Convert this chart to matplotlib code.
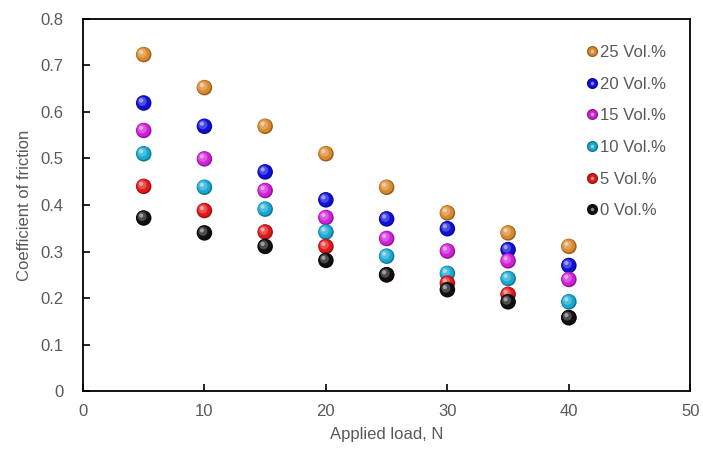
import numpy as np
import matplotlib
matplotlib.use("Agg")
import matplotlib.pyplot as plt
from matplotlib.transforms import offset_copy
from matplotlib.lines import Line2D
from matplotlib.colors import to_rgb
from matplotlib.legend_handler import HandlerTuple

plt.rcParams['font.family'] = ['Liberation Sans Narrow', 'Liberation Sans', 'DejaVu Sans']

# applied load (N)
load = [5, 10, 15, 20, 25, 30, 35, 40]

# coefficient of friction for each filler content
cof_25 = [0.723, 0.652, 0.569, 0.510, 0.438, 0.383, 0.340, 0.311]
cof_20 = [0.619, 0.569, 0.471, 0.411, 0.370, 0.349, 0.304, 0.270]
cof_15 = [0.560, 0.499, 0.431, 0.373, 0.328, 0.301, 0.280, 0.240]
cof_10 = [0.510, 0.438, 0.391, 0.342, 0.290, 0.253, 0.242, 0.192]
cof_5 = [0.440, 0.388, 0.342, 0.311, 0.250, 0.232, 0.208, 0.158]
cof_0 = [0.372, 0.340, 0.311, 0.281, 0.250, 0.218, 0.192, 0.158]

labels = ['25 Vol.%', '20 Vol.%', '15 Vol.%', '10 Vol.%', '5 Vol.%', '0 Vol.%']
series = [cof_25, cof_20, cof_15, cof_10, cof_5, cof_0]
colors = ['#d98a2e', '#1010d8', '#d020d8', '#18a8d0', '#e01818', '#101010']

fig = plt.figure(figsize=(7.03, 4.57), dpi=100)
ax = fig.add_axes([0.118, 0.144, 0.864, 0.815])

def mix(c, w, t):
    c = np.array(to_rgb(c))
    return tuple(c * (1 - t) + np.array(w) * t)

z = 2
for ys, c, lab in zip(series, colors, labels):
    # shaded sphere: dark rim, body, lighter core, highlight
    ax.scatter(load, ys, s=125, color=mix(c, (0, 0, 0), 0.3), edgecolors='none', zorder=z)
    ax.scatter(load, ys, s=95, color=c, edgecolors='none', zorder=z + 0.1,
               transform=offset_copy(ax.transData, fig=fig, x=-0.4, y=0.4, units='points'))
    ax.scatter(load, ys, s=42, color=mix(c, (1, 1, 1), 0.25), edgecolors='none', zorder=z + 0.2,
               transform=offset_copy(ax.transData, fig=fig, x=-1.1, y=1.1, units='points'))
    ax.scatter(load, ys, s=9, color=mix(c, (1, 1, 1), 0.6), edgecolors='none', zorder=z + 0.3,
               transform=offset_copy(ax.transData, fig=fig, x=-1.8, y=1.8, units='points'))
    z += 1

handles = [(Line2D([], [], ls='none', marker='o', ms=8, mec='none', mfc=mix(c, (0, 0, 0), 0.3)),
            Line2D([], [], ls='none', marker='o', ms=6, mec='none', mfc=c),
            Line2D([], [], ls='none', marker='o', ms=2.5, mec='none', mfc=mix(c, (1, 1, 1), 0.5)))
           for c in colors]
leg = ax.legend(handles, labels, loc='upper right', bbox_to_anchor=(0.985, 0.97),
                frameon=False, fontsize=12, handletextpad=0.1, labelspacing=1.0,
                handlelength=0.8, handler_map={tuple: HandlerTuple(ndivide=1, pad=0)},
                labelcolor='#595959')

ax.set_xlim(0, 50)
ax.set_ylim(0, 0.8)
ax.set_xticks(np.arange(0, 51, 10))
ax.set_yticks(np.arange(0, 0.81, 0.1))
ax.set_yticklabels(['0'] + ['%.1f' % v for v in np.arange(0.1, 0.81, 0.1)])
ax.tick_params(direction='in', length=5, width=1.2, labelsize=12, colors='black',
               labelcolor='#595959')
ax.tick_params(axis='y', pad=14)
ax.tick_params(axis='x', pad=9)
for sp in ax.spines.values():
    sp.set_linewidth(1.3)

ax.set_xlabel('Applied load, N', fontsize=12, color='#595959', labelpad=6)
ax.set_ylabel('Coefficient of friction', fontsize=12, color='#595959', labelpad=6)

fig.savefig('out.png', dpi=100)
